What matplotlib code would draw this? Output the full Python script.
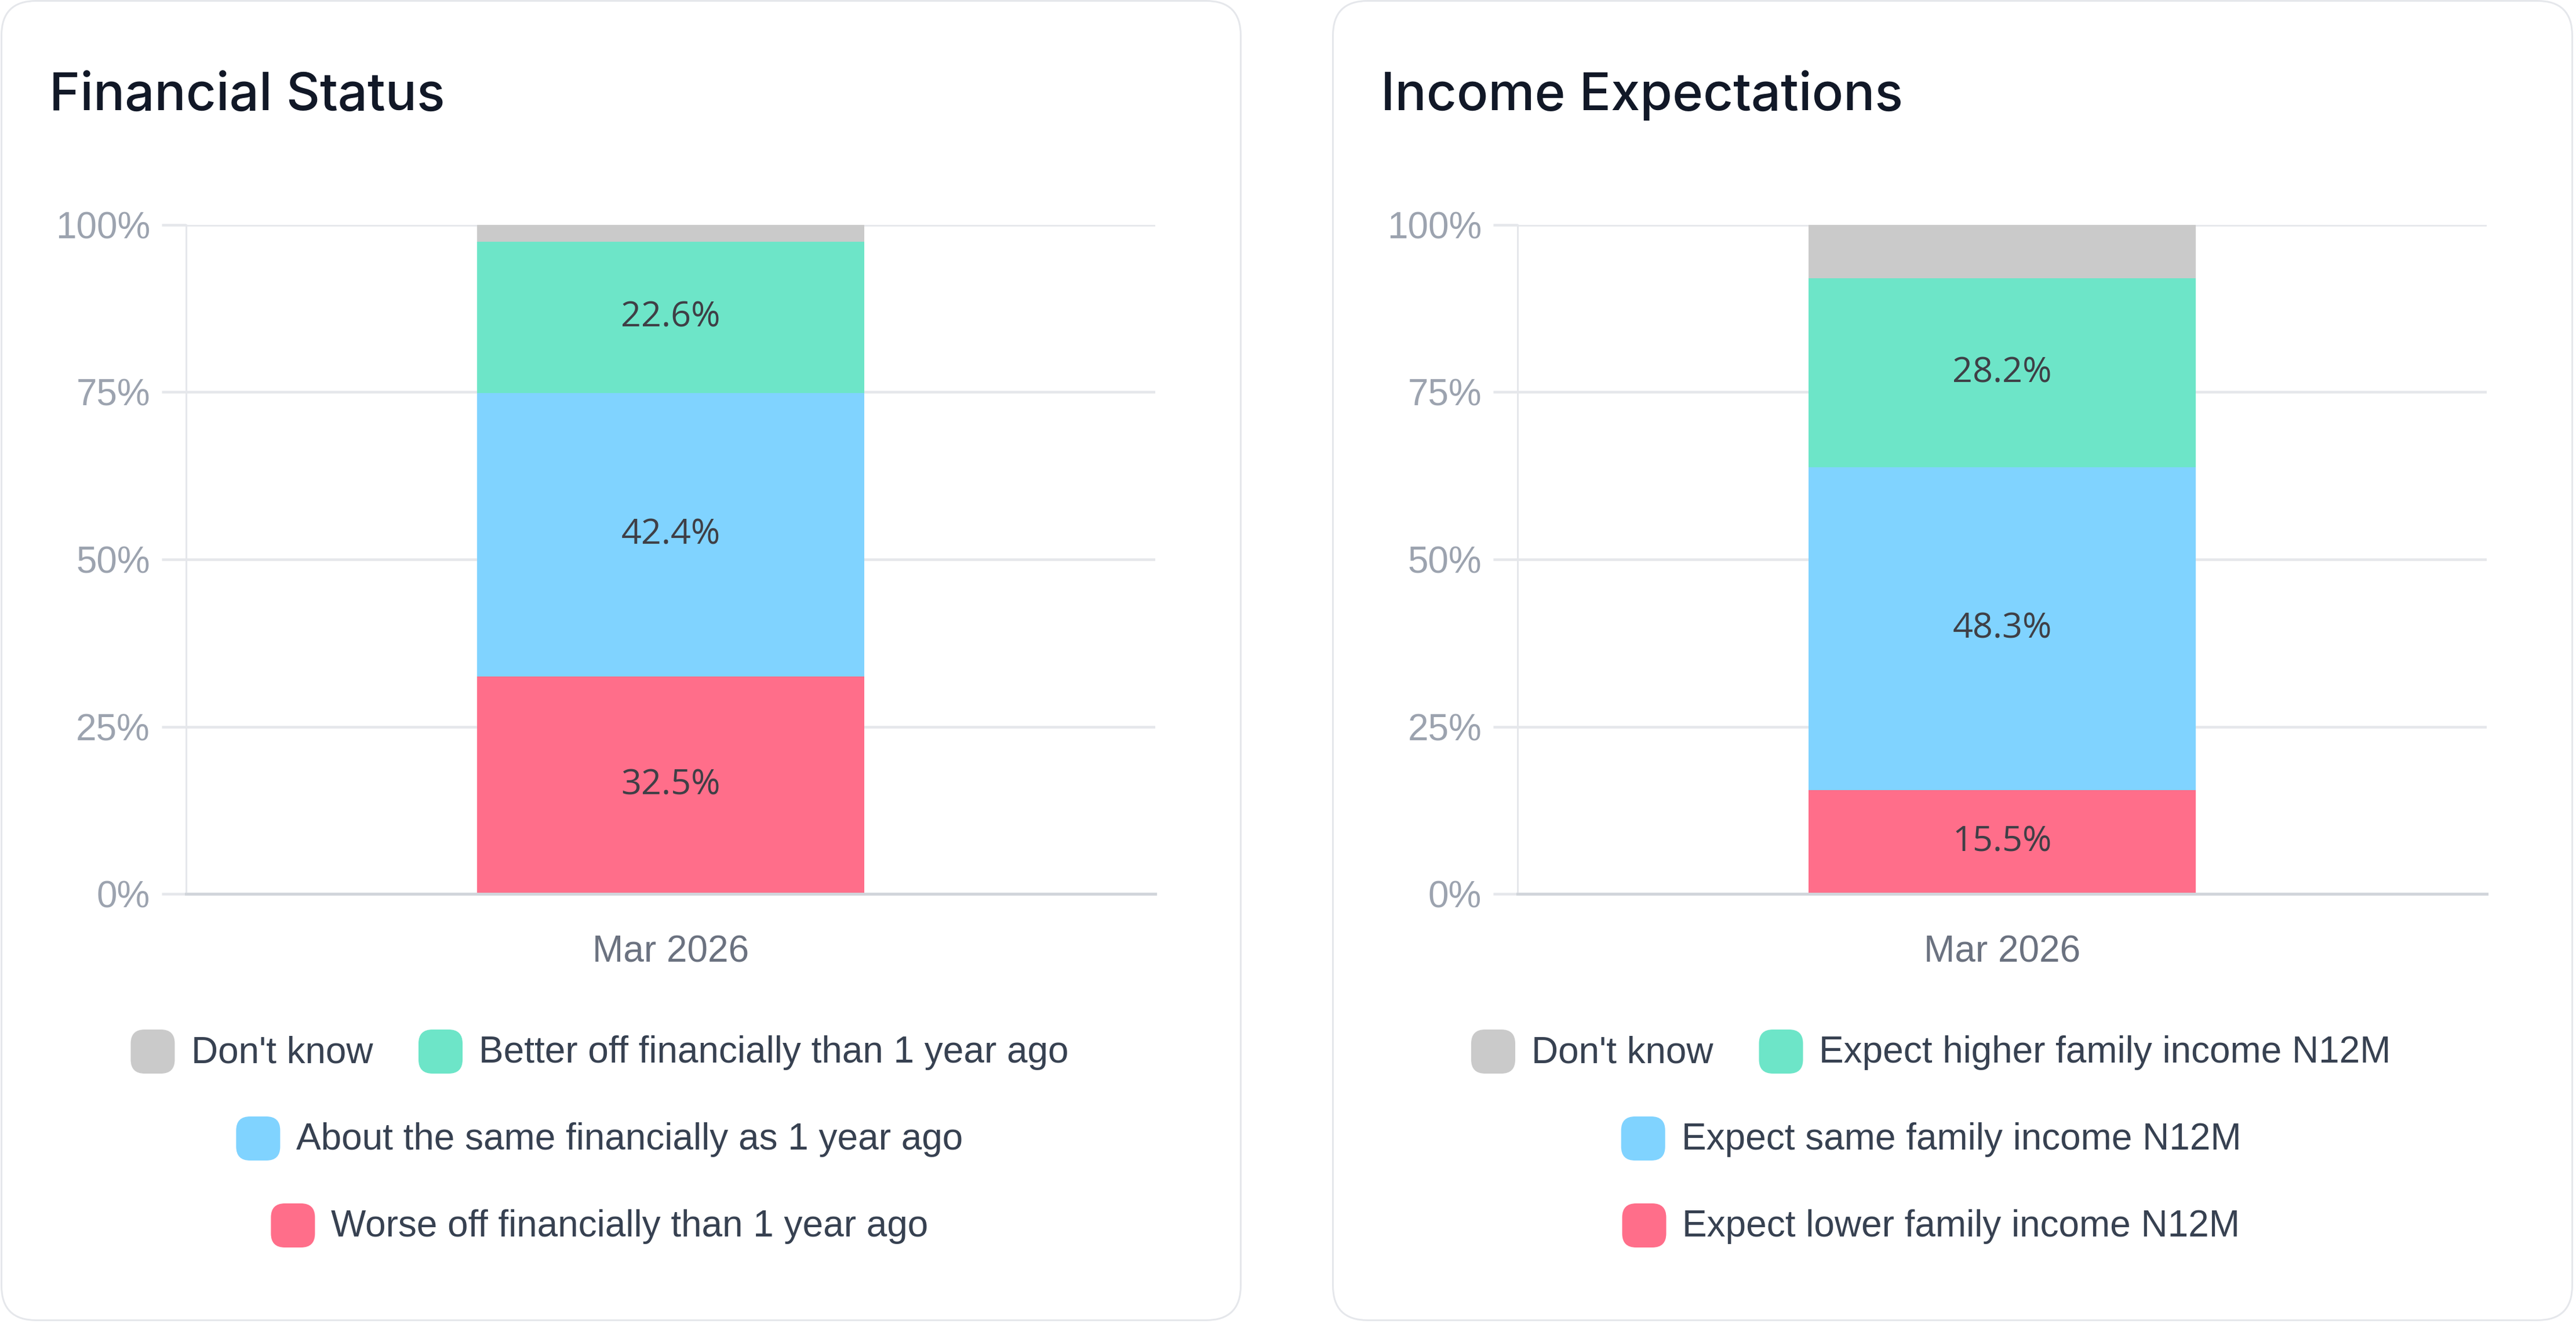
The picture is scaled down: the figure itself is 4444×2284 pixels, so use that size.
import numpy as np
import matplotlib
matplotlib.use("Agg")
import matplotlib.pyplot as plt
from matplotlib.patches import FancyBboxPatch
from matplotlib.ticker import FuncFormatter

# ---- data ----
periods = ["Mar 2026"]
fin_title = "Financial Status"
fin_labels = ["Worse off financially than 1 year ago",
              "About the same financially as 1 year ago",
              "Better off financially than 1 year ago",
              "Don't know"]
fin_values = [32.5, 42.4, 22.6, 2.5]

inc_title = "Income Expectations"
inc_labels = ["Expect lower family income N12M",
              "Expect same family income N12M",
              "Expect higher family income N12M",
              "Don't know"]
inc_values = [15.5, 48.3, 28.2, 8.0]

seg_colors = ["#FF6E8A", "#80D3FF", "#6DE5C8", "#CACACA"]
y_ticks = [0, 25, 50, 75, 100]
legend_rows = [[3, 2], [1], [0]]   # indices into labels, top to bottom

# ---- geometry (pixels) ----
W, H = 4444, 2284
DPI = 100
card_w = 2141
card_offsets = [1, 2298]
ax_left, ax_right, ax_top, ax_bot = 320, 1992, 388, 1542

TITLE_FONT = "Inter"
BODY_FONT = "Liberation Sans"
LABEL_FONT = "Open Sans"
px = 72.0 / DPI   # pixels -> points

fig = plt.figure(figsize=(W / DPI, H / DPI), dpi=DPI)
fig.patch.set_facecolor("white")

# overlay in pixel coordinates for cards, titles and legends
bg = fig.add_axes([0, 0, 1, 1], zorder=0)
bg.set_xlim(0, W); bg.set_ylim(H, 0)
bg.axis("off")

renderer = fig.canvas.get_renderer()


def draw_panel(x0, title, labels, values):
    card = FancyBboxPatch((x0 + 1.5, 1.5), card_w - 3, H - 8,
                          boxstyle="round,pad=0,rounding_size=60",
                          facecolor="white", edgecolor="#E5E7EB", linewidth=3 * px)
    bg.add_patch(card)
    bg.text(x0 + 84, 190, title, fontsize=65, fontfamily=TITLE_FONT,
            fontweight="medium", color="#111827", ha="left", va="baseline")

    ax = fig.add_axes([(x0 + ax_left) / W, 1 - ax_bot / H,
                       (ax_right - ax_left) / W, (ax_bot - ax_top) / H], zorder=2)
    ax.patch.set_alpha(0)
    xs = np.arange(len(periods))
    bottom = 0.0
    for i, v in enumerate(values):
        ax.bar(xs, [v], width=0.4, bottom=bottom, color=seg_colors[i],
               linewidth=0, zorder=3)
        if v >= 10:
            ax.text(xs[0], bottom + v / 2, f"{v:.1f}%", ha="center", va="center",
                    fontsize=44, fontfamily=LABEL_FONT, color="#3F3F46", zorder=4)
        bottom += v
    ax.set_xlim(-0.5, 0.5)
    ax.set_ylim(0, 100)
    ax.set_yticks(y_ticks)
    ax.yaxis.set_major_formatter(FuncFormatter(lambda v, p: f"{v:.0f}%"))
    ax.set_xticks(xs)
    ax.set_xticklabels(periods)
    ax.grid(axis="y", color="#E5E7EB", linewidth=4.5 * px, zorder=1)
    ax.tick_params(axis="y", length=42 * px, width=4.5 * px, color="#E5E7EB",
                   pad=20 * px, labelsize=46, labelcolor="#9CA3AF")
    ax.tick_params(axis="x", length=0, pad=70 * px, labelsize=46,
                   labelcolor="#6B7280")
    for lab in ax.get_yticklabels() + ax.get_xticklabels():
        lab.set_fontfamily(BODY_FONT)
    for s in ["top", "right"]:
        ax.spines[s].set_visible(False)
    ax.spines["left"].set_color("#E5E7EB")
    ax.spines["left"].set_linewidth(3 * px)
    ax.spines["bottom"].set_color("#D1D5DB")
    ax.spines["bottom"].set_linewidth(5 * px)
    ax.spines["bottom"].set_zorder(5)

    # legend, rows centred under the card
    cx = x0 + card_w / 2 - 37
    mk, gap_in, gap_out = 76, 28, 79
    for r, row in enumerate(legend_rows):
        yc = 1814 + 150 * r
        widths = []
        for idx in row:
            t = bg.text(0, 0, labels[idx], fontsize=46, fontfamily=BODY_FONT)
            widths.append(t.get_window_extent(renderer).width)
            t.remove()
        total = sum(mk + gap_in + w for w in widths) + gap_out * (len(row) - 1)
        x = cx - total / 2
        for idx, w in zip(row, widths):
            bg.add_patch(FancyBboxPatch((x, yc - mk / 2), mk, mk,
                                        boxstyle="round,pad=0,rounding_size=24",
                                        facecolor=seg_colors[idx], linewidth=0))
            bg.text(x + mk + gap_in, yc + 19, labels[idx], fontsize=46,
                    fontfamily=BODY_FONT, color="#374151", ha="left", va="baseline")
            x += mk + gap_in + w + gap_out


draw_panel(card_offsets[0], fin_title, fin_labels, fin_values)
draw_panel(card_offsets[1], inc_title, inc_labels, inc_values)

fig.savefig("out.png", dpi=DPI, facecolor="white")
